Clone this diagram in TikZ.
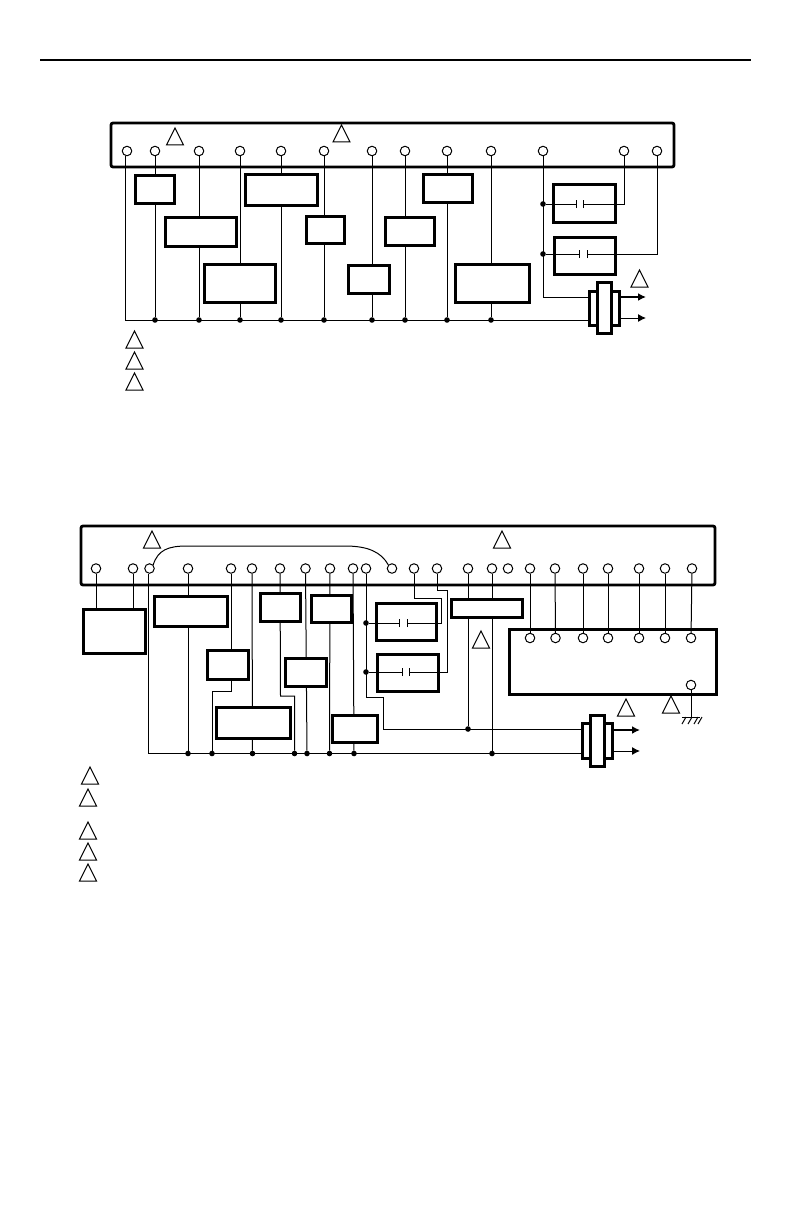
\documentclass[tikz,border=0pt]{standalone}
\usepackage{tikz}
\usetikzlibrary{positioning, arrows.meta, shapes.geometric}

\tikzset{
  panel/.style={draw, line width=2.8pt, rounded corners=2pt},
  terminal/.style={circle, draw, fill=white, line width=1pt, inner sep=0pt, minimum size=9.5pt},
  junction/.style={circle, fill=black, inner sep=0pt, minimum size=5.6pt},
  loadbox/.style={draw, fill=white, line width=3pt, inner sep=0pt, outer sep=0pt},
  note/.style={isosceles triangle, isosceles triangle stretches, shape border rotate=90, draw,
    line width=1pt, inner sep=0pt, outer sep=0pt, minimum width=17pt, minimum height=17pt, anchor=lower side},
  wire/.style={line width=1pt},
  plate/.style={line width=1pt},
  output/.style={line width=1pt, -{Latex[length=8pt,width=8pt]}}
}

\begin{document}
\begin{tikzpicture}[x=1pt, y=-1pt]
  \useasboundingbox (0,0) rectangle (793,1225);

  % Header rule
  \coordinate (ruleL) at (40,60);
  \coordinate (ruleR) at (751,60);
  \draw[line width=2pt] (ruleL) -- (ruleR);

  %%% Upper diagram %%%

  % Controller panel
  \node[panel, minimum width=563pt, minimum height=44pt] (ctrlA) at (392.5,145) {};

  % Terminals
  \foreach \name/\x in {a1/127,a2/155,a3/199,a4/240,a5/281,a6/324,a7/372,a8/405,a9/447,a10/491,a11/543,a12/624,a13/657}
    \node[terminal] (\name) at (\x,151) {};

  % Common bus and junctions
  \coordinate (busA) at (125.5,320);
  \foreach \name/\src in {ja2/a2,ja3/a3,ja4/a4,ja5/a5,ja6/a6,ja7/a7,ja8/a8,ja9/a9,ja10/a10}
    \node[junction] (\name) at (\src |- busA) {};
  \node[junction] (ja11) at (543,204) {};
  \node[junction] (ja12) at (543,254) {};

  % Coil
  \node[loadbox, minimum width=30pt, minimum height=34pt] (coilinA) at (604,308) {};
  \node[loadbox, minimum width=14pt, minimum height=51pt] (coilA) at (604,307.5) {};

  % Wires to the bus
  \draw[wire] (a1.south -| busA) -- (busA) -- (busA -| coilinA.west);
  \foreach \src/\dst in {a2/ja2,a3/ja3,a4/ja4,a5/ja5,a6/ja6,a7/ja7,a8/ja8,a9/ja9,a10/ja10}
    \draw[wire] (\src) -- (\dst);

  % Coil feed
  \coordinate (feedA) at (543,297);
  \draw[wire] (a11) -- (feedA) -- (feedA -| coilinA.west);

  % Loads
  \foreach \name/\x/\y/\w/\h in {
      la1/154.5/189.5/39/27, la2/200.5/231.5/71/29, la3/239.5/283/71/38,
      la4/281/190/72/30, la5/325/229.5/38/27, la6/368.5/279/41/28,
      la7/409.5/231/49/28, la8/447.5/188.5/49/27, la9/492/283/74/38}
    \node[loadbox, minimum width=\w pt, minimum height=\h pt] (\name) at (\x,\y) {};

  % Contact boxes
  \node[loadbox, minimum width=62pt, minimum height=37pt] (capA1) at (584,203.5) {};
  \node[loadbox, minimum width=61pt, minimum height=37pt] (capA2) at (584.5,255.5) {};

  % Contacts
  \coordinate (plA1) at (576,204);
  \coordinate (plA2) at (583,204);
  \coordinate (plA3) at (579,254);
  \coordinate (plA4) at (587,254);
  \coordinate (bendA1) at (a12 |- plA1);
  \coordinate (bendA2) at (a13 |- plA3);
  \draw[wire] (ja11) -- (plA1);
  \draw[wire] (plA2) -- (bendA1) -- (a12);
  \draw[wire] (ja12) -- (plA3);
  \draw[wire] (plA4) -- (bendA2) -- (a13);
  \foreach \p in {plA1,plA2,plA3,plA4}
    \draw[plate] ([yshift=-4pt]\p) -- ([yshift=4pt]\p);

  % Outputs
  \coordinate (outA1) at (646,297);
  \coordinate (outA2) at (646,318);
  \draw[output, line width=1.6pt] (outA1 -| coilinA.east) -- (outA1);
  \draw[output] (outA2 -| coilinA.east) -- (outA2);

  % Note marks
  \foreach \name/\x/\y in {na1/175/145,na2/341.5/142,na3/639.5/287,na4/134.5/348,na5/134.5/369,na6/134.5/390}
    \node[note] (\name) at (\x,\y) {};

  %%% Lower diagram %%%

  % Controller panel
  \node[panel, minimum width=634pt, minimum height=59pt] (ctrlB) at (398,555.5) {};

  % Terminals
  \foreach \name/\x in {b1/96,b2/133,b3/149.5,b4/188,b5/231,b6/252,b7/280,b8/305.5,b9/330,b10/353,b11/366,
      b12/392,b13/414,b14/437,b15/468,b16/492,b17/508,b18/530,b19/555,b20/583,b21/608,b22/639,b23/665,b24/692}
    \node[terminal] (\name) at (\x,568.5) {};

  % Jumper
  \draw[wire] (b3.north east) .. controls (158,550) and (168,546) .. (187,546)
    -- (345,546) .. controls (368,546) and (381,552) .. (b12.north west);

  % Extension module
  \node[loadbox, minimum width=207pt, minimum height=65pt] (extB) at (612.5,661.5) {};
  \foreach \name/\x in {c1/530,c2/555.5,c3/583,c4/608,c5/639,c6/665,c7/691}
    \node[terminal] (\name) at (\x,638) {};
  \node[terminal] (c8) at (691,685) {};
  \foreach \src/\dst in {b18/c1,b19/c2,b20/c3,b21/c4,b22/c5,b23/c6,b24/c7}
    \draw[wire] (\src) -- (\dst);

  % Ground
  \coordinate (gnd) at (691,717);
  \coordinate (gndL) at (682,717);
  \coordinate (gndR) at (700,717);
  \draw[wire] (c8) -- (gnd);
  \draw[wire] (gndL) -- (gndR);
  \foreach \x in {686,692,698,702}
    \draw[wire] (\x,717) -- ({\x-4},724);

  % Common bus and junctions
  \coordinate (busB) at (148,753.5);
  \coordinate (feedB) at (383,729);
  \foreach \name/\x in {jb1/188,jb2/212,jb3/252.5,jb4/294.5,jb5/307,jb6/329.5,jb7/354,jb8/492}
    \node[junction] (\name) at (\x,753.5) {};
  \node[junction] (jb9) at (468,729) {};
  \node[junction] (jb10) at (366,623) {};
  \node[junction] (jb11) at (366,672) {};

  % Coil
  \node[loadbox, minimum width=30pt, minimum height=35pt] (coilinB) at (597,740.5) {};
  \node[loadbox, minimum width=14pt, minimum height=51pt] (coilB) at (597,740.5) {};

  % Wires to the bus
  \draw[wire] (b3.south -| busB) -- (busB) -- (busB -| coilinB.west);
  \foreach \src/\dst in {b4/jb1,b6/jb3,b8/jb5,b9/jb6,b10/jb7,b15/jb9,b16/jb8}
    \draw[wire] (\src) -- (\dst);
  \draw[wire] (b5) -- (231,691) -- (212,691) -- (jb2);
  \draw[wire] (b7) -- (280.5,696) -- (294.5,696) -- (jb4);
  \draw[wire] (b1) -- (96,609);
  \draw[wire] (b2) -- (133,609);

  % Coil feed
  \draw[wire] (b11) -- (366,697) -- (383,697) -- (feedB) -- (feedB -| coilinB.west);

  % Loads
  \foreach \name/\x/\y/\w/\h in {
      lb1/114/631/62/44, lb2/190.5/611/73/30, lb3/227.5/664.5/41/29, lb4/253/722.5/74/31,
      lb5/280/607/40/28, lb6/305.5/672/41/28, lb7/331/608.5/40/27, lb8/354.5/728.5/45/27,
      lb9/486.5/608/71/18}
    \node[loadbox, minimum width=\w pt, minimum height=\h pt] (\name) at (\x,\y) {};

  % Contact boxes
  \node[loadbox, minimum width=60pt, minimum height=37pt] (capB1) at (406,621.5) {};
  \node[loadbox, minimum width=61pt, minimum height=37pt] (capB2) at (407.5,672.5) {};

  % Contacts
  \coordinate (plB1) at (399,623);
  \coordinate (plB2) at (407,623);
  \coordinate (plB3) at (402,672);
  \coordinate (plB4) at (409,672);
  \draw[wire] (jb10) -- (plB1);
  \draw[wire] (plB2) -- (441,623) -- (441,598) -- (414,598) -- (b13);
  \draw[wire] (jb11) -- (plB3);
  \draw[wire] (plB4) -- (447,672) -- (447,590) -- (437,590) -- (b14);
  \foreach \p in {plB1,plB2,plB3,plB4}
    \draw[plate] ([yshift=-4pt]\p) -- ([yshift=4pt]\p);

  % Outputs
  \coordinate (outB1) at (640,730);
  \coordinate (outB2) at (640,751);
  \draw[output, line width=1.6pt] (outB1 -| coilinB.east) -- (outB1);
  \draw[output] (outB2 -| coilinB.east) -- (outB2);

  % Note marks
  \foreach \name/\x/\y in {nb1/152/548,nb2/502/548,nb3/481/648,nb4/626/716,nb5/671/713,nb6/90/784,nb7/88/806,nb8/88/839,nb9/88/860,nb10/88/881}
    \node[note] (\name) at (\x,\y) {};

\end{tikzpicture}
\end{document}
